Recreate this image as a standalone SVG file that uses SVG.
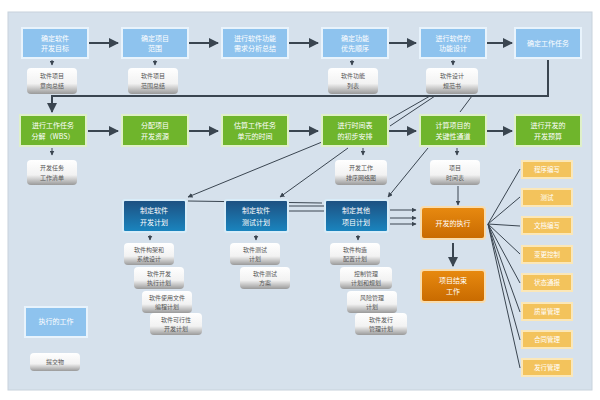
<svg xmlns="http://www.w3.org/2000/svg" width="600" height="400" viewBox="0 0 600 400">
<defs>
<marker id="ar" viewBox="0 0 10 10" refX="9" refY="5" markerWidth="5" markerHeight="5" orient="auto"><path d="M0,0L10,5L0,10z" fill="#3a4550"/></marker>
<linearGradient id="dg" x1="0" y1="0" x2="0" y2="1"><stop offset="0" stop-color="#1d4f80"/><stop offset="1" stop-color="#1a86c0"/></linearGradient>
<linearGradient id="og" x1="0" y1="0" x2="0" y2="1"><stop offset="0" stop-color="#e88a10"/><stop offset="1" stop-color="#c86a00"/></linearGradient>
<linearGradient id="wg" x1="0" y1="0" x2="0" y2="1"><stop offset="0" stop-color="#ffffff"/><stop offset="0.6" stop-color="#f2f2f2"/><stop offset="1" stop-color="#9a9a9a"/></linearGradient>
<style>
text{font-family:"Noto Sans CJK SC",sans-serif;font-size:7px;text-anchor:middle}
.lb rect{fill:#8ec3ee;stroke:#e8f3fc;stroke-width:2}
.lb text{fill:#fff}
.gr rect{fill:#6fb52c;stroke:#dff0c8;stroke-width:2}
.gr text{fill:#fff}
.db rect{fill:url(#dg);stroke:#d8ecf8;stroke-width:2}
.db text{fill:#fff}
.or rect{fill:url(#og);stroke:#f8dcae;stroke-width:2}
.or text{fill:#fff}
.yl rect{fill:#f3c35c;stroke:#fbe7b8;stroke-width:2}
.yl text{fill:#fff;font-size:6.5px}
.wt rect{fill:url(#wg)}
.wt text{fill:#555;font-size:6px}
.c line,.c path{stroke:#3a4550;stroke-width:1;fill:none}
.c .t{stroke-width:2}
</style>
</defs>
<rect width="600" height="400" fill="#fff"/>
<rect x="8" y="12" width="584" height="378" fill="#d6e1ec" stroke="#c8d2dc"/>
<g class="c">
<line class="t" x1="88" y1="43" x2="118" y2="43" marker-end="url(#ar)"/>
<line class="t" x1="188" y1="43" x2="218" y2="43" marker-end="url(#ar)"/>
<line class="t" x1="288" y1="43" x2="318" y2="43" marker-end="url(#ar)"/>
<line class="t" x1="388" y1="43" x2="416" y2="43" marker-end="url(#ar)"/>
<line class="t" x1="486" y1="43" x2="512" y2="43" marker-end="url(#ar)"/>
<line class="t" x1="88" y1="131" x2="118" y2="131" marker-end="url(#ar)"/>
<line class="t" x1="188" y1="131" x2="218" y2="131" marker-end="url(#ar)"/>
<line class="t" x1="288" y1="131" x2="318" y2="131" marker-end="url(#ar)"/>
<line class="t" x1="388" y1="131" x2="416" y2="131" marker-end="url(#ar)"/>
<line class="t" x1="486" y1="131" x2="512" y2="131" marker-end="url(#ar)"/>
<path class="t" d="M548,60V96H52V112" marker-end="url(#ar)"/>
<line x1="52" y1="60" x2="52" y2="65" marker-end="url(#ar)"/>
<line x1="155" y1="60" x2="155" y2="65" marker-end="url(#ar)"/>
<line x1="352" y1="60" x2="352" y2="65" marker-end="url(#ar)"/>
<line x1="453" y1="60" x2="453" y2="65" marker-end="url(#ar)"/>
<line x1="52" y1="148" x2="52" y2="155" marker-end="url(#ar)"/>
<line x1="363" y1="148" x2="363" y2="155" marker-end="url(#ar)"/>
<line x1="457" y1="148" x2="457" y2="155" marker-end="url(#ar)"/>
<line x1="150" y1="235" x2="150" y2="240" marker-end="url(#ar)"/>
<line x1="256" y1="235" x2="256" y2="240" marker-end="url(#ar)"/>
<line x1="358" y1="235" x2="358" y2="240" marker-end="url(#ar)"/>
<line x1="430" y1="96" x2="388" y2="120"/>
<line x1="435" y1="96" x2="390" y2="126"/>
<line x1="472" y1="96" x2="460" y2="112"/>
<line x1="322" y1="142" x2="188" y2="197" marker-end="url(#ar)"/>
<line x1="348" y1="148" x2="280" y2="197" marker-end="url(#ar)"/>
<line x1="428" y1="148" x2="388" y2="197" marker-end="url(#ar)"/>
<line x1="458" y1="186" x2="458" y2="205" marker-end="url(#ar)"/>
<line x1="188" y1="201" x2="322" y2="203"/>
<line x1="288" y1="206" x2="325" y2="206"/>
<line x1="288" y1="211" x2="325" y2="211"/>
<line x1="390" y1="210" x2="416" y2="210" marker-end="url(#ar)"/>
<line x1="390" y1="218" x2="416" y2="218" marker-end="url(#ar)"/>
<line x1="390" y1="224" x2="416" y2="224" marker-end="url(#ar)"/>
<line class="t" x1="453" y1="243" x2="453" y2="266" marker-end="url(#ar)"/>
<g stroke="#50647a">
<line x1="488" y1="224" x2="520" y2="169"/><line x1="488" y1="224" x2="520" y2="197"/>
<line x1="488" y1="224" x2="520" y2="226"/><line x1="488" y1="224" x2="520" y2="254"/>
<line x1="488" y1="224" x2="520" y2="283"/><line x1="488" y1="224" x2="520" y2="312"/>
<line x1="488" y1="224" x2="520" y2="340"/><line x1="488" y1="224" x2="520" y2="368"/>
</g>
</g>
<g id="n1" class="lb"><rect x="22" y="28" width="66" height="30"/><text x="55" y="41">确定软件</text><text x="55" y="51">开发目标</text></g>
<g id="n2" class="lb"><rect x="122" y="28" width="66" height="30"/><text x="155" y="41">确定项目</text><text x="155" y="51">范围</text></g>
<g id="n3" class="lb"><rect x="222" y="28" width="66" height="30"/><text x="255" y="41">进行软件功能</text><text x="255" y="51">需求分析总结</text></g>
<g id="n4" class="lb"><rect x="322" y="28" width="66" height="30"/><text x="355" y="41">确定功能</text><text x="355" y="51">优先顺序</text></g>
<g id="n5" class="lb"><rect x="420" y="28" width="66" height="30"/><text x="453" y="41">进行软件的</text><text x="453" y="51">功能设计</text></g>
<g id="n6" class="lb"><rect x="515" y="28" width="66" height="30"/><text x="548" y="46">确定工作任务</text></g>
<g id="d1" class="wt"><rect x="27" y="68" width="50" height="26" rx="4"/><text x="52" y="78">软件项目</text><text x="52" y="88">意向总结</text></g>
<g id="d2" class="wt"><rect x="128" y="68" width="50" height="26" rx="4"/><text x="153" y="78">软件项目</text><text x="153" y="88">范围总结</text></g>
<g id="d3" class="wt"><rect x="328" y="68" width="50" height="26" rx="4"/><text x="353" y="78">软件功能</text><text x="353" y="88">列表</text></g>
<g id="d4" class="wt"><rect x="426" y="68" width="52" height="26" rx="4"/><text x="452" y="78">软件设计</text><text x="452" y="88">规范书</text></g>
<g id="g1" class="gr"><rect x="20" y="115" width="66" height="31"/><text x="53" y="128">进行工作任务</text><text x="53" y="139">分解（WBS）</text></g>
<g id="g2" class="gr"><rect x="122" y="115" width="66" height="31"/><text x="155" y="128">分配项目</text><text x="155" y="139">开发资源</text></g>
<g id="g3" class="gr"><rect x="222" y="115" width="66" height="31"/><text x="255" y="128">估算工作任务</text><text x="255" y="139">单元的时间</text></g>
<g id="g4" class="gr"><rect x="322" y="115" width="66" height="31"/><text x="355" y="128">进行时间表</text><text x="355" y="139">的初步安排</text></g>
<g id="g5" class="gr"><rect x="420" y="115" width="66" height="31"/><text x="453" y="128">计算项目的</text><text x="453" y="139">关键性通道</text></g>
<g id="g6" class="gr"><rect x="515" y="115" width="66" height="31"/><text x="548" y="128">进行开发的</text><text x="548" y="139">开发预算</text></g>
<g id="d5" class="wt"><rect x="27" y="160" width="50" height="25" rx="4"/><text x="52" y="170">开发任务</text><text x="52" y="180">工作清单</text></g>
<g id="d6" class="wt"><rect x="335" y="160" width="52" height="25" rx="4"/><text x="361" y="170">开发工作</text><text x="361" y="180">排序网络图</text></g>
<g id="d7" class="wt"><rect x="430" y="160" width="50" height="25" rx="4"/><text x="455" y="170">项目</text><text x="455" y="180">时间表</text></g>
<g id="b1" class="db"><rect x="123" y="200" width="63" height="32" rx="2"/><text x="154" y="213">制定软件</text><text x="154" y="225">开发计划</text></g>
<g id="b2" class="db"><rect x="225" y="200" width="63" height="32" rx="2"/><text x="256" y="213">制定软件</text><text x="256" y="225">测试计划</text></g>
<g id="b3" class="db"><rect x="325" y="200" width="63" height="32" rx="2"/><text x="356" y="213">制定其他</text><text x="356" y="225">项目计划</text></g>
<g id="s1" class="wt"><rect x="124" y="243" width="50" height="22" rx="4"/><text x="149" y="252">软件构架和</text><text x="149" y="261">系统设计</text></g>
<g id="s2" class="wt"><rect x="134" y="267" width="50" height="22" rx="4"/><text x="159" y="276">软件开发</text><text x="159" y="285">执行计划</text></g>
<g id="s3" class="wt"><rect x="142" y="291" width="50" height="22" rx="4"/><text x="167" y="300">软件使用文件</text><text x="167" y="309">编程计划</text></g>
<g id="s4" class="wt"><rect x="150" y="313" width="52" height="22" rx="4"/><text x="176" y="322">软件可行性</text><text x="176" y="331">开发计划</text></g>
<g id="s5" class="wt"><rect x="230" y="243" width="50" height="22" rx="4"/><text x="255" y="252">软件测试</text><text x="255" y="261">计划</text></g>
<g id="s6" class="wt"><rect x="240" y="267" width="50" height="22" rx="4"/><text x="265" y="276">软件测试</text><text x="265" y="285">方案</text></g>
<g id="s7" class="wt"><rect x="330" y="243" width="50" height="22" rx="4"/><text x="355" y="252">软件构造</text><text x="355" y="261">配置计划</text></g>
<g id="s8" class="wt"><rect x="340" y="267" width="52" height="22" rx="4"/><text x="366" y="276">控制管理</text><text x="366" y="285">计划和规划</text></g>
<g id="s9" class="wt"><rect x="347" y="291" width="50" height="22" rx="4"/><text x="372" y="300">风险管理</text><text x="372" y="309">计划</text></g>
<g id="s10" class="wt"><rect x="355" y="313" width="52" height="22" rx="4"/><text x="381" y="322">软件发行</text><text x="381" y="331">管理计划</text></g>
<g id="e1" class="or"><rect x="421" y="207" width="64" height="32" rx="3"/><text x="453" y="226">开发的执行</text></g>
<g id="e2" class="or"><rect x="421" y="270" width="64" height="32" rx="3"/><text x="453" y="283">项目结束</text><text x="453" y="294">工作</text></g>
<g id="y1" class="yl"><rect x="522" y="161" width="50" height="17"/><text x="547" y="172">程序编写</text></g>
<g id="y2" class="yl"><rect x="522" y="189" width="50" height="17"/><text x="547" y="200">测试</text></g>
<g id="y3" class="yl"><rect x="522" y="217" width="50" height="17"/><text x="547" y="228">文档编写</text></g>
<g id="y4" class="yl"><rect x="522" y="246" width="50" height="17"/><text x="547" y="257">变更控制</text></g>
<g id="y5" class="yl"><rect x="522" y="274" width="50" height="17"/><text x="547" y="285">状态通报</text></g>
<g id="y6" class="yl"><rect x="522" y="303" width="50" height="17"/><text x="547" y="314">质量管理</text></g>
<g id="y7" class="yl"><rect x="522" y="331" width="50" height="17"/><text x="547" y="342">合同管理</text></g>
<g id="y8" class="yl"><rect x="522" y="359" width="50" height="17"/><text x="547" y="370">发行管理</text></g>
<g id="l1" class="lb"><rect x="25" y="307" width="62" height="30"/><text x="56" y="324">执行的工作</text></g>
<g id="l2" class="wt"><rect x="30" y="353" width="50" height="18" rx="4"/><text x="55" y="364">提交物</text></g>
</svg>
